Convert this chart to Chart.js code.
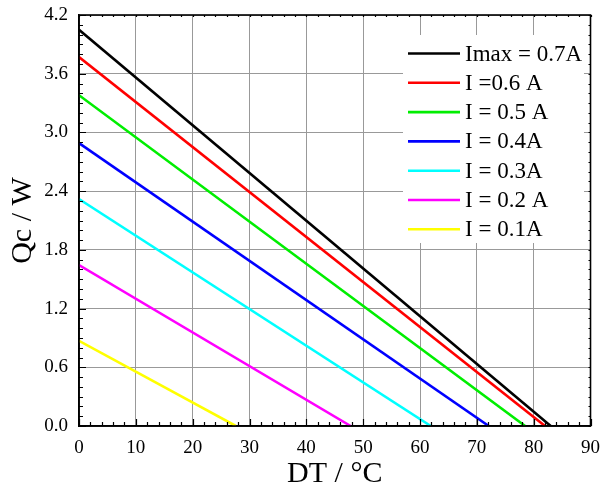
<!DOCTYPE html>
<html>
<head>
<meta charset="utf-8">
<script src="https://cdn.jsdelivr.net/npm/chart.js@4"></script>
<style>
  html, body { margin: 0; padding: 0; background: #fff; }
  canvas { display: block; }
</style>
</head>
<body>
<canvas id="qc" width="611" height="492"></canvas>
<script>
// Cooling capacity Qc versus temperature difference DT, one straight line per drive current
const seriesLabels = ['Imax = 0.7A', 'I =0.6 A', 'I = 0.5 A', 'I = 0.4A', 'I = 0.3A', 'I = 0.2 A', 'I = 0.1A'];
const seriesColors = ['#000000', '#ff0000', '#00ee00', '#0000ff', '#00ffff', '#ff00ff', '#ffff00'];
const qcAtZeroDT = [4.05, 3.77, 3.38, 2.89, 2.32, 1.645, 0.87];   // W, at DT = 0
const dtAtZeroQc = [83.0, 82.0, 78.5, 72.1, 61.9, 47.8, 27.6];    // °C, where Qc reaches 0
const xTicks = [0, 10, 20, 30, 40, 50, 60, 70, 80, 90];
const yTicks = [0.0, 0.6, 1.2, 1.8, 2.4, 3.0, 3.6, 4.2];

const serif = '"Liberation Serif", "Times New Roman", serif';

const datasets = seriesLabels.map((label, i) => ({
  label,
  data: [{ x: 0, y: qcAtZeroDT[i] }, { x: dtAtZeroQc[i], y: 0 }],
  borderColor: seriesColors[i],
  backgroundColor: seriesColors[i],
  borderWidth: 2.6,
  pointRadius: 0,
  fill: false,
  tension: 0
}));

// Frame on top/right plus inward tick marks on all four sides
const frameTicks = {
  id: 'frameTicks',
  afterDatasetsDraw(chart) {
    const { ctx, chartArea: a, scales: { x, y } } = chart;
    ctx.save();
    ctx.strokeStyle = '#000';
    ctx.lineWidth = 1.2;
    ctx.beginPath();
    for (let v = 0; v <= 90 + 1e-9; v += 2) {
      const px = Math.round(x.getPixelForValue(v)) + 0.5;
      const major = Math.abs(v % 10) < 1e-9;
      const len = major ? 7 : 4;
      ctx.moveTo(px, a.bottom); ctx.lineTo(px, a.bottom - len);
      ctx.moveTo(px, a.top); ctx.lineTo(px, a.top + 2);
    }
    for (let k = 0; k <= 42; k++) {
      const v = k / 10;
      const py = Math.round(y.getPixelForValue(v)) + 0.5;
      const major = k % 6 === 0;
      const len = major ? 7 : 4;
      ctx.moveTo(a.left, py); ctx.lineTo(a.left + len, py);
      ctx.moveTo(a.right, py); ctx.lineTo(a.right - 2, py);
    }
    ctx.stroke();
    ctx.lineWidth = 1.6;
    ctx.strokeRect(a.left, a.top, a.right - a.left, a.bottom - a.top);
    ctx.restore();
  }
};

// Legend box inside the plot, built from the datasets
const innerLegend = {
  id: 'innerLegend',
  afterDatasetsDraw(chart) {
    const { ctx } = chart;
    const box = { x: 403, y: 35, w: 181, h: 208 };
    ctx.save();
    ctx.fillStyle = '#fff';
    ctx.fillRect(box.x, box.y, box.w, box.h);
    ctx.font = '23px ' + serif;
    ctx.textBaseline = 'middle';
    ctx.textAlign = 'left';
    chart.data.datasets.forEach((ds, i) => {
      const cy = 53.5 + i * 29.3;
      ctx.strokeStyle = ds.borderColor;
      ctx.lineWidth = 2.6;
      ctx.beginPath();
      ctx.moveTo(408, cy); ctx.lineTo(460, cy);
      ctx.stroke();
      ctx.fillStyle = '#000';
      ctx.fillText(ds.label, 465, cy + 1);
    });
    ctx.restore();
  }
};

new Chart(document.getElementById('qc'), {
  type: 'line',
  data: { datasets },
  options: {
    responsive: false,
    animation: false,
    layout: { padding: { top: 15, right: 12, left: 0, bottom: 0 } },
    plugins: { legend: { display: false }, tooltip: { enabled: false } },
    scales: {
      x: {
        type: 'linear',
        min: 0, max: 90,
        afterBuildTicks(s) { s.ticks = xTicks.map(v => ({ value: v })); },
        afterFit(s) { s.height = 66; },
        grid: { color: '#999', lineWidth: 1, drawTicks: false },
        border: { display: true, color: '#000', width: 1.6 },
        ticks: { color: '#000', font: { family: serif, size: 19 }, padding: 11, maxRotation: 0 },
        title: { display: true, text: 'DT / °C', color: '#000', font: { family: serif, size: 30 }, padding: { top: 0, bottom: 0 } }
      },
      y: {
        type: 'linear',
        min: 0, max: 4.2,
        afterBuildTicks(s) { s.ticks = yTicks.map(v => ({ value: v })); },
        afterFit(s) { s.width = 79; s.paddingTop = 0; s.paddingBottom = 0; },
        grid: { color: '#999', lineWidth: 1, drawTicks: false },
        border: { display: true, color: '#000', width: 1.6 },
        ticks: { color: '#000', font: { family: serif, size: 19 }, padding: 11, callback: v => Number(v).toFixed(1) },
        title: { display: true, text: 'Qc / W', color: '#000', font: { family: serif, size: 30 }, padding: { top: 5, bottom: 0 } }
      }
    }
  },
  plugins: [frameTicks, innerLegend]
});
</script>
</body>
</html>
